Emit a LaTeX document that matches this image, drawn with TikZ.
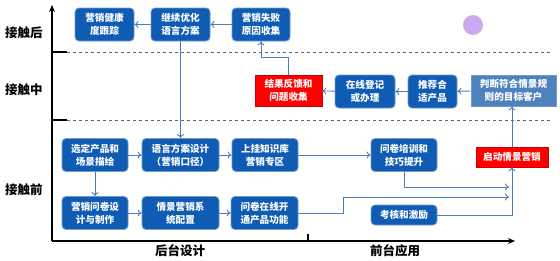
\documentclass[tikz,border=0pt]{standalone}
\usepackage{fontspec}
\usepackage{tikz}
\usetikzlibrary{arrows.meta,calc,positioning}
\newfontfamily\cjk{Noto Sans CJK SC}
\definecolor{boxblue}{RGB}{16,92,180}
\definecolor{edgeblue}{RGB}{79,129,189}
\definecolor{lineblue}{RGB}{74,126,187}
\definecolor{lavender}{RGB}{204,170,238}

\begin{document}
\begin{tikzpicture}[x=1pt,y=-1pt,
  box/.style={draw=edgeblue!80!white,line width=0.8pt,fill=boxblue,rounded corners=4pt,
    text=white,font=\cjk\bfseries\fontsize{9.6}{13}\selectfont,align=center,
    inner sep=0pt,minimum height=33pt},
  redbox/.style={fill=red,draw=red!80!black,line width=0.4pt,text=white,
    font=\cjk\bfseries\fontsize{9.6}{13}\selectfont,align=center,inner sep=0pt},
  flow/.style={lineblue,line width=0.9pt,-{To[length=4pt,width=7pt]}},
  axlabel/.style={font=\cjk\bfseries\fontsize{12.5}{14}\selectfont}]
\useasboundingbox[fill=white] (0,0) rectangle (560,260);

% Axes
\draw[line width=1.4pt,-{Stealth[length=7pt,width=6pt]}] (52,241) -- (52,5);
\draw[line width=1.4pt,-{Stealth[length=7pt,width=6pt]}] (52,241) -- (515,241);
\draw[line width=1.4pt] (52,52) -- (67,52);
\draw[line width=1.4pt] (52,120) -- (67,120);
\draw[line width=1.2pt] (308,241) -- (308,234);
\draw[gray!80!black,dashed,line width=0.7pt] (67,52) -- (550,52);
\draw[gray!80!black,dashed,line width=0.7pt] (67,120) -- (550,120);

\node[axlabel] (after) at (24,33) {接触后};
\node[axlabel] (during) at (24,90) {接触中};
\node[axlabel] (before) at (24,190) {接触前};
\node[axlabel] (backend) at (180,251) {后台设计};
\node[axlabel] (frontend) at (395,251) {前台应用};

% Decoration
\fill[lavender] (473,25) circle (10);

% After contact
\node[box,minimum width=59pt] (health) at (104.5,24.5) {营销健康\\度跟踪};
\node[box,minimum width=59pt] (optim) at (180.5,24.5) {继续优化\\语言方案};
\node[box,minimum width=58pt] (failure) at (261,24.5) {营销失败\\原因收集};

% During contact
\node[redbox,minimum width=67pt,minimum height=31pt] (feedback) at (288.5,90.5) {结果反馈和\\问题收集};
\node[box,minimum width=60pt] (online) at (365,91.5) {在线登记\\或办理};
\node[box,minimum width=49pt] (recommend) at (432.5,91.5) {推荐合\\适产品};
\node[box,fill=edgeblue,rounded corners=0pt,minimum width=85pt,minimum height=31pt] (judge) at (513.5,90.5) {判断符合情景规\\则的目标客户};

% Before contact
\node[box,minimum width=66pt] (select) at (95,155) {选定产品和\\场景描绘};
\node[box,minimum width=77pt] (speech) at (180.5,155) {语言方案设计\\（营销口径）};
\node[box,minimum width=66pt] (kbase) at (265,155) {上挂知识库\\营销专区};
\node[box,minimum width=66pt] (train) at (404,155) {问卷培训和\\技巧提升};
\node[redbox,minimum width=72pt,minimum height=20pt] (start) at (512,157) {启动情景营销};
\node[box,minimum width=66pt] (survey) at (95,213) {营销问卷设\\计与制作};
\node[box,minimum width=77pt] (config) at (180.5,213) {情景营销系\\统配置};
\node[box,minimum width=67pt] (launch) at (264.5,213) {问卷在线开\\通产品功能};
\node[box,minimum width=66pt,minimum height=20pt] (assess) at (404,215) {考核和激励};

\coordinate (trainEnd) at (509,187);
\coordinate (launchEnd) at (509,197);

% Connectors
\draw[flow] (optim) -- (health);
\draw[flow] (failure) -- (optim);
\draw[flow] (feedback.north) -- ++(0,-17) -| (failure.south);
\draw[flow] (online) -- (feedback);
\draw[flow] (recommend) -- (online);
\draw[flow] (judge) -- (recommend);
\draw[flow] (start.north) -- (start.north |- judge.south);
\draw[flow] (optim.south) -- (speech.north);
\draw[flow] (select) -- (speech);
\draw[flow] (speech) -- (kbase);
\draw[flow] (kbase) -- (train);
\draw[flow] (select) -- (survey);
\draw[flow] (survey) -- (config);
\draw[flow] (config) -- (launch);
\draw[flow] (train.south) |- (trainEnd);
\draw[flow] (launch.east) -- ++(45,0) |- (launchEnd);
\draw[flow] (assess.east) -| (start.south);
\end{tikzpicture}
\end{document}
